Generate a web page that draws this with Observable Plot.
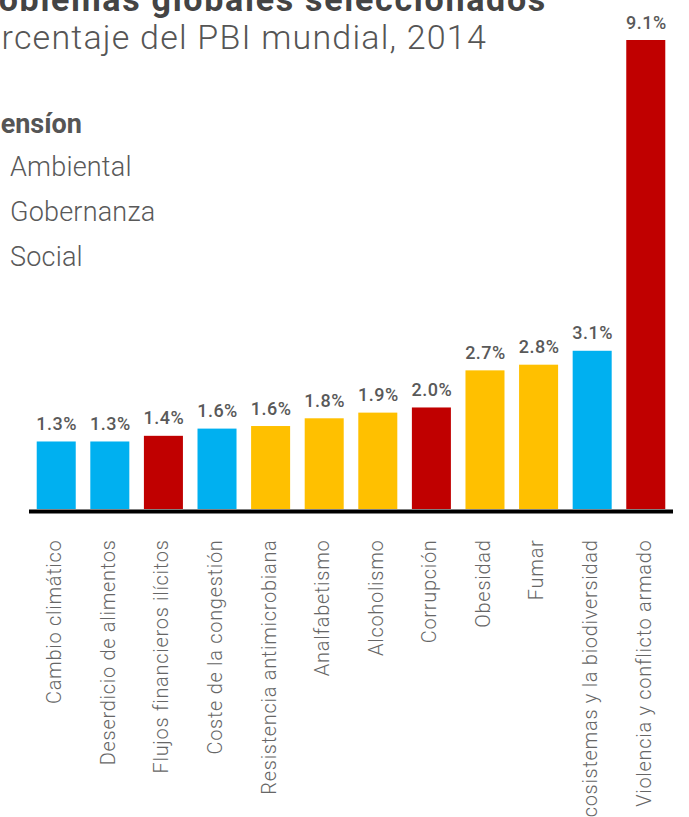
<!DOCTYPE html>
<html>
<head>
<meta charset="utf-8">
<script src="https://cdn.jsdelivr.net/npm/d3@7"></script>
<script src="https://cdn.jsdelivr.net/npm/@observablehq/plot@0.6"></script>
<style>
html, body { margin: 0; padding: 0; background: #fff; overflow: hidden; }
#wrap { position: relative; width: 689px; height: 817px; overflow: hidden; font-family: Roboto, sans-serif; }
#wrap svg { position: absolute; left: 0; top: 0; background: transparent; max-width: none; }
#wrap svg text { white-space: pre; letter-spacing: 0.5px; }
#wrap svg g.ticklab text { letter-spacing: 0.7px; }
.t { position: absolute; white-space: nowrap; margin: 0; }
#title { right: 142px; top: -17.6px; font-size: 34px; line-height: 34px; font-weight: 700; color: #444; letter-spacing: 1.7px; }
#subtitle { right: 202px; top: 20.4px; font-size: 34px; line-height: 34px; font-weight: 300; color: #555; letter-spacing: 1.2px; }
#legtitle { right: 607px; top: 111.3px; font-size: 27px; line-height: 27px; font-weight: 700; color: #555; }
.leg { left: -26px; font-size: 27px; line-height: 27px; font-weight: 300; color: #595959; display: flex; align-items: center; letter-spacing: 0.2px; }
.sw { display: inline-block; width: 18px; height: 18px; margin-right: 18px; }
</style>
</head>
<body>
<div id="wrap"></div>
<script>
const titleText = "Costo de problemas globales seleccionados";
const subtitleText = "Porcentaje del PBI mundial, 2014";
const legendTitle = "Dimensíon";

const categories = [
  "Cambio climático",
  "Deserdicio de alimentos",
  "Flujos financieros ilícitos",
  "Coste de la congestión",
  "Resistencia antimicrobiana",
  "Analfabetismo",
  "Alcoholismo",
  "Corrupción",
  "Obesidad",
  "Fumar",
  "Ecosistemas y la biodiversidad",
  "Violencia y conflicto armado"
];
const dimensions = [
  "Ambiental", "Ambiental", "Gobernanza", "Ambiental", "Social", "Social",
  "Social", "Gobernanza", "Social", "Social", "Ambiental", "Gobernanza"
];
const values = [1.31, 1.31, 1.42, 1.56, 1.61, 1.76, 1.87, 1.97, 2.69, 2.8, 3.07, 9.1];

const dimensionDomain = ["Ambiental", "Gobernanza", "Social"];
const dimensionColors = ["#00B0F0", "#C00000", "#FFC000"];

const rows = categories.map((c, i) => ({name: c, dim: dimensions[i], value: values[i]}));

const chart = Plot.plot({
  width: 689,
  height: 817,
  marginTop: 40,
  marginBottom: 308,
  marginLeft: 29,
  marginRight: 16,
  style: {fontFamily: "Roboto, sans-serif", background: "transparent", overflow: "visible"},
  x: {domain: categories, paddingInner: 0.272, paddingOuter: 0.144, round: false, axis: null},
  y: {domain: [0, 9.1], axis: null},
  color: {domain: dimensionDomain, range: dimensionColors},
  marks: [
    Plot.barY(rows, {x: "name", y: "value", fill: "dim"}),
    Plot.ruleY([0], {stroke: "#000", strokeWidth: 4, dy: 2}),
    Plot.text(rows, {
      x: "name", y: "value",
      text: d => d.value.toFixed(1) + "%",
      lineAnchor: "bottom", dy: -12,
      fontSize: 18, fontWeight: 500, fill: "#595959"
    }),
    Plot.text(rows, {
      x: "name", y: 0, text: "name",
      rotate: -90, textAnchor: "end", lineAnchor: "middle",
      dy: 30, dx: -2,
      fontSize: 20, fontWeight: 300, fill: "#666"
    })
  ]
});

const textGroups = chart.querySelectorAll('g[aria-label="text"]');
if (textGroups.length > 1) textGroups[textGroups.length - 1].classList.add("ticklab");

const wrap = document.getElementById("wrap");
wrap.appendChild(chart);

function addText(id, cls, txt) {
  const d = document.createElement("div");
  if (id) d.id = id;
  d.className = cls;
  d.textContent = txt;
  wrap.appendChild(d);
  return d;
}
addText("title", "t", titleText);
addText("subtitle", "t", subtitleText);
addText("legtitle", "t", legendTitle);

const legTops = [154.3, 199.3, 244.3];
dimensionDomain.forEach((name, i) => {
  const d = document.createElement("div");
  d.className = "t leg";
  d.style.top = legTops[i] + "px";
  const sw = document.createElement("span");
  sw.className = "sw";
  sw.style.background = dimensionColors[i];
  d.appendChild(sw);
  d.appendChild(document.createTextNode(name));
  wrap.appendChild(d);
});
</script>
</body>
</html>
